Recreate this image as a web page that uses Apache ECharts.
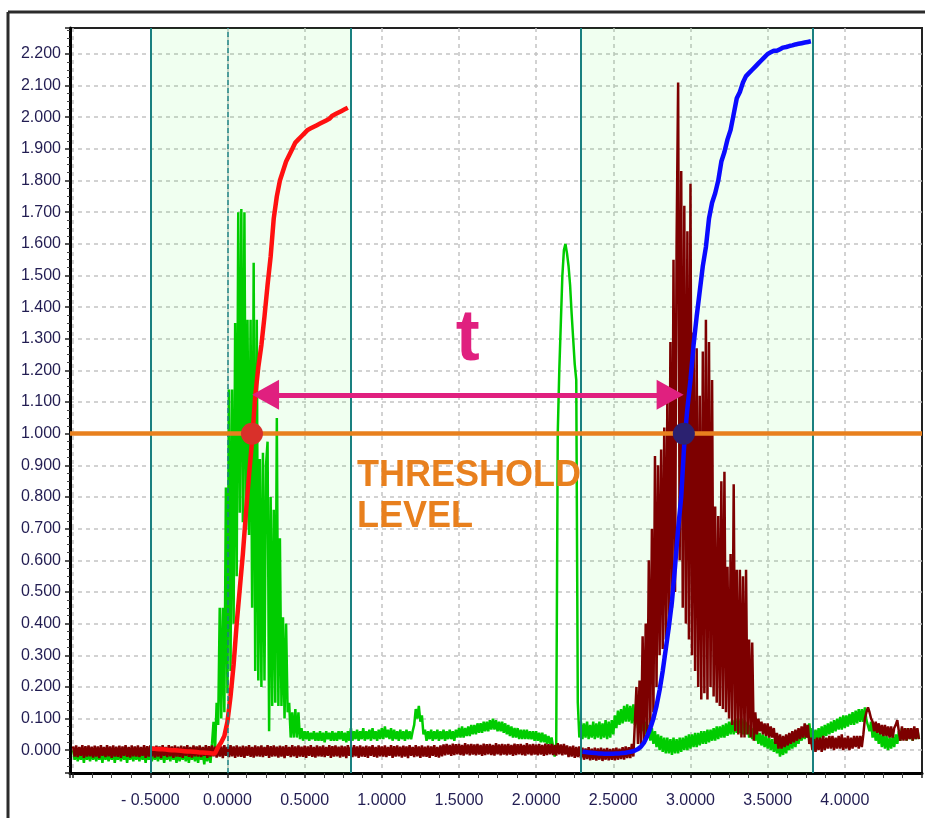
<!DOCTYPE html>
<html>
<head>
<meta charset="utf-8">
<title>Threshold timing</title>
<script src="https://cdn.jsdelivr.net/npm/echarts@6/dist/echarts.min.js"></script>
<style>
  html, body { margin: 0; padding: 0; background: #fff; }
  #chart { width: 925px; height: 818px; }
</style>
</head>
<body>
<div id="chart"></div>
<script>
// noisy traces are sampled every 0.01, the two integral curves every 0.02
// each segment: start x + values (rows of 10, row start in comment)

// green trace
var greenQuiet1 = [ // from -1.00
  /* -1.00 */ 0.0, -0.03, 0.005, -0.035, -0.005, -0.03, 0.0, -0.04, 0.005, -0.03,
  /* -0.90 */ -0.005, -0.035, 0.0, -0.03, 0.005, -0.035, -0.005, -0.03, 0.0, -0.04,
  /* -0.80 */ 0.005, -0.03, -0.005, -0.035, 0.0, -0.03, 0.005, -0.04, -0.005, -0.03,
  /* -0.70 */ 0.0, -0.035, 0.005, -0.03, -0.005, -0.04, 0.0, -0.03, 0.005, -0.035,
  /* -0.60 */ -0.005, -0.03, 0.0, -0.035, 0.005, -0.03, -0.005, -0.04, 0.0, -0.03,
  /* -0.50 */ 0.005, -0.035, 0.0, -0.03, -0.005, -0.035, 0.005, -0.03, 0.0, -0.04,
  /* -0.40 */ -0.005, -0.03, 0.005, -0.035, 0.0, -0.03, -0.005, -0.04, 0.005, -0.035,
  /* -0.30 */ 0.0, -0.03, -0.005, -0.035, 0.005, -0.04, 0.0, -0.03, -0.005, -0.035,
  /* -0.20 */ 0.005, -0.04, 0.0, -0.03, -0.005, -0.045, 0.0, -0.035, 0.005, -0.04
];
var greenBurst = [ // from -0.10
  /* -0.10 */ 0.02, 0.09, 0.0, 0.15, 0.08, 0.45, 0.10, 0.45, 0.12, 0.83,
  /*  0.00 */ 0.18, 1.14, 0.25, 1.14, 0.40, 1.35, 0.55, 1.70, 0.75, 1.71,
  /*  0.10 */ 0.72, 1.70, 0.70, 1.36, 0.68, 1.36, 0.45, 1.54, 0.25, 1.36,
  /*  0.20 */ 0.22, 0.92, 0.20, 0.94, 0.22, 0.90, 0.975, 0.06, 0.80, 0.14,
  /*  0.30 */ 0.76, 0.15, 1.05, 0.14, 0.67, 0.14, 0.42, 0.10, 0.40, 0.12,
  /*  0.40 */ 0.15, 0.04, 0.12, 0.04, 0.13, 0.04, 0.12, 0.035, 0.07, 0.03,
  /*  0.50 */ 0.06
];
var greenQuiet2 = [ // from 0.51
  /*  0.51 */ 0.035, 0.06, 0.03, 0.055, 0.035, 0.06, 0.03, 0.055, 0.03,
  /*  0.60 */ 0.06, 0.03, 0.055, 0.025, 0.06, 0.035, 0.055, 0.03, 0.06, 0.03,
  /*  0.70 */ 0.055, 0.03, 0.06, 0.035, 0.06, 0.03, 0.055, 0.025, 0.06, 0.03,
  /*  0.80 */ 0.07, 0.03, 0.06, 0.035, 0.065, 0.03, 0.06, 0.035, 0.07, 0.03,
  /*  0.90 */ 0.06, 0.035, 0.065, 0.03, 0.07, 0.035, 0.06, 0.03, 0.065, 0.035,
  /*  1.00 */ 0.07, 0.035, 0.075, 0.04, 0.065, 0.035, 0.07, 0.03, 0.065, 0.035,
  /*  1.10 */ 0.06, 0.03, 0.065, 0.035, 0.06, 0.03, 0.065, 0.035, 0.06, 0.035,
  /*  1.20 */ 0.06, 0.08, 0.13, 0.10, 0.14, 0.09, 0.11, 0.05, 0.065, 0.03,
  /*  1.30 */ 0.06, 0.035, 0.065, 0.03, 0.06, 0.035, 0.065, 0.03, 0.06, 0.035,
  /*  1.40 */ 0.065, 0.03, 0.06, 0.035, 0.065, 0.035, 0.06, 0.03, 0.065, 0.04,
  /*  1.50 */ 0.07, 0.04, 0.075, 0.04, 0.07, 0.045, 0.075, 0.045, 0.08, 0.05,
  /*  1.60 */ 0.08, 0.05, 0.085, 0.055, 0.085, 0.055, 0.09, 0.06, 0.09, 0.06,
  /*  1.70 */ 0.095, 0.065, 0.10, 0.065, 0.095, 0.06, 0.09, 0.06, 0.09, 0.055,
  /*  1.80 */ 0.085, 0.05, 0.08, 0.045, 0.075, 0.04, 0.07, 0.04, 0.07, 0.035,
  /*  1.90 */ 0.065, 0.035, 0.065, 0.035, 0.065, 0.035, 0.06, 0.035, 0.06, 0.03,
  /*  2.00 */ 0.06, 0.03, 0.055, 0.025, 0.055, 0.025, 0.05, 0.02, 0.045, 0.02,
  /*  2.10 */ 0.04, 0.01, -0.02, 0.0, 1.0, 1.20, 1.35, 1.50, 1.58, 1.60,
  /*  2.20 */ 1.57, 1.53, 1.47, 1.38, 1.30, 1.22, 1.17, 0.15, 0.04, 0.09,
  /*  2.30 */ 0.035, 0.085, 0.04, 0.09, 0.035, 0.08, 0.04, 0.09, 0.035, 0.085,
  /*  2.40 */ 0.04, 0.09, 0.035, 0.085, 0.04, 0.095, 0.035, 0.09, 0.04, 0.095,
  /*  2.50 */ 0.05, 0.11, 0.07, 0.125, 0.08, 0.13, 0.085, 0.14, 0.09, 0.145,
  /*  2.60 */ 0.09, 0.14, 0.085, 0.145, 0.08, 0.13, 0.07, 0.11, 0.06, 0.10,
  /*  2.70 */ 0.05, 0.09, 0.04, 0.08, 0.03, 0.07, 0.02, 0.06, 0.01, 0.05,
  /*  2.80 */ 0.0, 0.045, -0.005, 0.04, -0.01, 0.04, -0.01, 0.035, -0.015, 0.04,
  /*  2.90 */ -0.01, 0.035, -0.01, 0.04, -0.005, 0.04, 0.0, 0.045, 0.0, 0.05,
  /*  3.00 */ 0.005, 0.05, 0.01, 0.055, 0.01, 0.055, 0.015, 0.06, 0.02, 0.06,
  /*  3.10 */ 0.02, 0.065, 0.025, 0.065, 0.03, 0.07, 0.03, 0.075, 0.035, 0.075,
  /*  3.20 */ 0.04, 0.08, 0.04, 0.085, 0.045, 0.09, 0.05, 0.095, 0.05, 0.10,
  /*  3.30 */ 0.055, 0.10, 0.055, 0.10, 0.05, 0.095, 0.05, 0.09, 0.04, 0.08,
  /*  3.40 */ 0.035, 0.07, 0.03, 0.065, 0.02, 0.055, 0.015, 0.05, 0.01, 0.045,
  /*  3.50 */ 0.005, 0.04, 0.0, 0.035, -0.005, 0.03, -0.01, 0.025, -0.02, 0.02,
  /*  3.60 */ -0.015, 0.025, -0.01, 0.03, 0.0, 0.04, 0.005, 0.045, 0.01, 0.055,
  /*  3.70 */ 0.02, 0.06, 0.03, 0.07, 0.035, 0.08, 0.04, 0.085, 0.03, 0.07,
  /*  3.80 */ 0.025, 0.065, 0.03, 0.07, 0.035, 0.075, 0.04, 0.08, 0.045, 0.085,
  /*  3.90 */ 0.05, 0.09, 0.055, 0.095, 0.06, 0.10, 0.065, 0.105, 0.065, 0.11,
  /*  4.00 */ 0.07, 0.11, 0.075, 0.115, 0.08, 0.12, 0.08, 0.125, 0.085, 0.13,
  /*  4.10 */ 0.09, 0.13, 0.09, 0.135, 0.095, 0.09, 0.06, 0.09, 0.04, 0.075,
  /*  4.20 */ 0.03, 0.06, 0.02, 0.055, 0.01, 0.05, 0.005, 0.045, 0.0, 0.04,
  /*  4.30 */ 0.005, 0.045, 0.01, 0.05, 0.02, 0.06, 0.03, 0.07, 0.035, 0.07,
  /*  4.40 */ 0.03, 0.07, 0.035, 0.065, 0.03, 0.07, 0.035, 0.065, 0.035
];

// dark red trace
var darkQuiet1 = [ // from -1.00
  /* -1.00 */ 0.012, -0.02, 0.015, -0.022, 0.01, -0.018, 0.016, -0.024, 0.013, -0.02,
  /* -0.90 */ 0.015, -0.019, 0.011, -0.023, 0.014, -0.02, 0.012, -0.025, 0.016, -0.018,
  /* -0.80 */ 0.01, -0.022, 0.016, -0.019, 0.012, -0.024, 0.015, -0.02, 0.011, -0.021,
  /* -0.70 */ 0.014, -0.024, 0.012, -0.018, 0.016, -0.021, 0.01, -0.023, 0.015, -0.019,
  /* -0.60 */ 0.012, -0.02, 0.015, -0.022, 0.01, -0.018, 0.016, -0.024, 0.013, -0.02,
  /* -0.50 */ 0.015, -0.019, 0.011, -0.023, 0.014, -0.02, 0.012, -0.025, 0.016, -0.018,
  /* -0.40 */ 0.01, -0.022, 0.016, -0.019, 0.012, -0.024, 0.015, -0.02, 0.011, -0.021,
  /* -0.30 */ 0.014, -0.024, 0.012, -0.018, 0.016, -0.021, 0.01, -0.023, 0.015, -0.019,
  /* -0.20 */ 0.012, -0.02, 0.015, -0.022, 0.01, -0.018, 0.016, -0.024, 0.013, -0.02,
  /* -0.10 */ 0.015, -0.019, 0.011, -0.023, 0.014, -0.02, 0.012, -0.025, 0.016, -0.018,
  /*  0.00 */ 0.01, -0.022, 0.016, -0.019, 0.012, -0.024, 0.015, -0.02, 0.011, -0.021,
  /*  0.10 */ 0.014, -0.024, 0.012, -0.018, 0.016, -0.021, 0.01, -0.023, 0.015, -0.019,
  /*  0.20 */ 0.012, -0.02, 0.015, -0.022, 0.01, -0.018, 0.016, -0.024, 0.013, -0.02,
  /*  0.30 */ 0.015, -0.019, 0.011, -0.023, 0.014, -0.02, 0.012, -0.025, 0.016, -0.018,
  /*  0.40 */ 0.01, -0.022, 0.016, -0.019, 0.012, -0.024, 0.015, -0.02, 0.011, -0.021,
  /*  0.50 */ 0.014, -0.024, 0.012, -0.018, 0.016, -0.021, 0.01, -0.023, 0.015, -0.019,
  /*  0.60 */ 0.012, -0.02, 0.015, -0.022, 0.01, -0.018, 0.016, -0.024, 0.013, -0.02,
  /*  0.70 */ 0.015, -0.019, 0.011, -0.023, 0.014, -0.02, 0.012, -0.025, 0.016, -0.018,
  /*  0.80 */ 0.01, -0.022, 0.016, -0.019, 0.012, -0.024, 0.015, -0.02, 0.011, -0.021,
  /*  0.90 */ 0.014, -0.024, 0.012, -0.018, 0.016, -0.021, 0.01, -0.023, 0.015, -0.019,
  /*  1.00 */ 0.012, -0.02, 0.015, -0.022, 0.01, -0.018, 0.016, -0.024, 0.013, -0.02,
  /*  1.10 */ 0.015, -0.019, 0.011, -0.023, 0.014, -0.02, 0.012, -0.025, 0.016, -0.018,
  /*  1.20 */ 0.01, -0.022, 0.016, -0.019, 0.012, -0.024, 0.015, -0.02, 0.011, -0.021,
  /*  1.30 */ 0.014, -0.024, 0.012, -0.018, 0.016, -0.021, 0.01, -0.023, 0.015, -0.019,
  /*  1.40 */ 0.018, -0.016, 0.02, -0.014, 0.017, -0.018, 0.021, -0.015, 0.019, -0.013,
  /*  1.50 */ 0.02, -0.015, 0.017, -0.017, 0.022, -0.013, 0.018, -0.016, 0.02, -0.014,
  /*  1.60 */ 0.018, -0.016, 0.02, -0.014, 0.017, -0.018, 0.021, -0.015, 0.019, -0.013,
  /*  1.70 */ 0.02, -0.015, 0.017, -0.017, 0.022, -0.013, 0.018, -0.016, 0.02, -0.014,
  /*  1.80 */ 0.018, -0.016, 0.02, -0.014, 0.017, -0.018, 0.021, -0.015, 0.019, -0.013,
  /*  1.90 */ 0.02, -0.015, 0.017, -0.017, 0.022, -0.013, 0.018, -0.016, 0.02, -0.014,
  /*  2.00 */ 0.018, -0.016, 0.02, -0.014, 0.017, -0.018, 0.021, -0.015, 0.019, -0.013,
  /*  2.10 */ 0.02, -0.015, 0.017, -0.017, 0.022, -0.013, 0.018, -0.016, 0.02, -0.014,
  /*  2.20 */ 0.015, -0.022, 0.012, -0.02, 0.014, -0.024, 0.01, -0.022, 0.012, -0.025,
  /*  2.30 */ 0.008, -0.03, 0.006, -0.028, 0.01, -0.032, 0.005, -0.03, 0.008, -0.033,
  /*  2.40 */ 0.006, -0.03, 0.008, -0.034, 0.005, -0.03, 0.007, -0.032, 0.004, -0.03,
  /*  2.50 */ 0.006, -0.032, 0.008, -0.03, 0.005, -0.028, 0.01, -0.03, 0.012, -0.025,
  /*  2.60 */ 0.01, -0.025, 0.02, -0.02
];
var darkBurst = [ // from 2.64
  /* 2.64 */ -0.02, 0.20, 0.02, 0.22, 0.02, 0.36,
  /* 2.70 */ 0.03, 0.40, 0.05, 0.60, 0.08, 0.70, 0.12, 0.93, 0.20, 0.90,
  /* 2.80 */ 0.30, 0.95, 0.32, 1.02, 0.35, 1.10, 0.38, 1.29, 0.45, 1.55,
  /* 2.90 */ 0.50, 1.60, 2.11, 0.60, 1.83, 0.45, 1.72, 0.40, 1.64, 0.35,
  /* 3.00 */ 1.79, 0.30, 1.32, 0.25, 1.27, 0.20, 1.12, 0.16, 1.26, 0.18,
  /* 3.10 */ 1.36, 0.16, 1.29, 0.20, 1.17, 0.17, 0.77, 0.15, 0.74, 0.14,
  /* 3.20 */ 0.85, 0.13, 0.88, 0.12, 0.58, 0.10, 0.62, 0.08, 0.84, 0.06,
  /* 3.30 */ 0.57, 0.05, 0.57, 0.04, 0.55, 0.04, 0.57, 0.05, 0.35, 0.04,
  /* 3.40 */ 0.34, 0.03, 0.12, 0.05, 0.10
];
var darkQuiet2 = [ // from 3.45
  /* 3.45 */ 0.06, 0.09, 0.05, 0.085, 0.045,
  /* 3.50 */ 0.085, 0.04, 0.075, 0.04, 0.07, 0.02, 0.055, 0.005, 0.05, 0.005,
  /* 3.60 */ 0.045, 0.01, 0.05, 0.015, 0.055, 0.02, 0.06, 0.025, 0.065, 0.03,
  /* 3.70 */ 0.07, 0.035, 0.075, 0.04, 0.085, 0.04, 0.08, 0.02, 0.04, 0.0,
  /* 3.80 */ 0.035, -0.005, 0.04, 0.0, 0.04, -0.005, 0.045, 0.0, 0.04, 0.005,
  /* 3.90 */ 0.045, 0.005, 0.045, 0.0, 0.04, 0.005, 0.045, 0.005, 0.05, 0.0,
  /* 4.00 */ 0.04, 0.005, 0.045, 0.0, 0.04, 0.005, 0.045, 0.01, 0.045, 0.005,
  /* 4.10 */ 0.045, 0.01, 0.05, 0.10, 0.12, 0.135, 0.12, 0.10, 0.09, 0.06,
  /* 4.20 */ 0.09, 0.055, 0.085, 0.05, 0.08, 0.045, 0.08, 0.045, 0.075, 0.04,
  /* 4.30 */ 0.075, 0.04, 0.07, 0.08, 0.095, 0.06, 0.03, 0.075, 0.03, 0.07,
  /* 4.40 */ 0.03, 0.07, 0.035, 0.07, 0.03, 0.075, 0.035, 0.07, 0.035
];

// red integral curve, from -0.50 every 0.02
var redVals = [
  /* -0.50 */ 0.005, 0.005, 0.004, 0.003, 0.003, 0.002, 0.001, 0.0, 0.0, -0.001,
  /* -0.30 */ -0.002, -0.003, -0.004, -0.004, -0.005, -0.006, -0.007, -0.007, -0.008, -0.009,
  /* -0.10 */ -0.01, -0.01, 0.01, 0.025, 0.045, 0.09, 0.17, 0.27, 0.40, 0.51,
  /*  0.10 */ 0.62, 0.75, 0.87, 0.98, 1.12, 1.21, 1.28, 1.37, 1.47, 1.56,
  /*  0.30 */ 1.68, 1.75, 1.80, 1.83, 1.86, 1.88, 1.90, 1.92, 1.93, 1.94,
  /*  0.50 */ 1.95, 1.96, 1.965, 1.97, 1.975, 1.98, 1.985, 1.99, 1.995, 2.005,
  /*  0.70 */ 2.01, 2.015, 2.02, 2.025, 2.03
];

// blue integral curve, from 2.30 every 0.02
var blueVals = [
  /* 2.30 */ -0.005, -0.006, -0.007, -0.008, -0.009, -0.01, -0.01, -0.011, -0.011, -0.011,
  /* 2.50 */ -0.011, -0.01, -0.01, -0.009, -0.008, -0.006, -0.004, -0.001, 0.004, 0.012,
  /* 2.70 */ 0.025, 0.045, 0.07, 0.10, 0.14, 0.19, 0.25, 0.32, 0.39, 0.47,
  /* 2.90 */ 0.58, 0.70, 0.80, 0.97, 1.08, 1.17, 1.28, 1.37, 1.45, 1.53,
  /* 3.10 */ 1.59, 1.68, 1.73, 1.76, 1.80, 1.86, 1.89, 1.93, 1.96, 2.01,
  /* 3.30 */ 2.06, 2.08, 2.11, 2.13, 2.14, 2.15, 2.16, 2.17, 2.18, 2.19,
  /* 3.50 */ 2.20, 2.205, 2.21, 2.21, 2.215, 2.22, 2.222, 2.225, 2.227, 2.23,
  /* 3.70 */ 2.232, 2.234, 2.236, 2.238, 2.24
];

// annotations
var bands = [[-0.5, 0.795], [2.288, 3.79]];
var bandEdges = [-0.5, 0.795, 2.288, 3.79];
var zeroLine = 0;
var threshold = 1.0;
var crossings = [[0.159, 1.0], [2.957, 1.0]];
var arrowY = 1.123;
var arrowEnds = [0.247, 2.868];
var tLabelPos = [1.557, 1.297];
var thresholdTextPos = [0.839, 0.80];

function segment(start, dx, vals) {
  return vals.map(function (v, i) {
    return [Math.round((start + i * dx) * 100) / 100, v];
  });
}

var greenData = segment(-1.0, 0.01, greenQuiet1)
  .concat(segment(-0.10, 0.01, greenBurst))
  .concat(segment(0.51, 0.01, greenQuiet2));
var darkData = segment(-1.0, 0.01, darkQuiet1)
  .concat(segment(2.64, 0.01, darkBurst))
  .concat(segment(3.45, 0.01, darkQuiet2));
var redData = segment(-0.5, 0.02, redVals);
var blueData = segment(2.3, 0.02, blueVals);

var labelFont = "'Liberation Sans', Arial, sans-serif";
var labelColor = '#221d52';

var myChart = echarts.init(document.getElementById('chart'));

var option = {
  animation: false,
  backgroundColor: '#ffffff',
  graphic: [
    { type: 'line', shape: { x1: 8, y1: 12, x2: 925, y2: 12 }, style: { stroke: '#2b2b2b', lineWidth: 3 }, z: 100 },
    { type: 'line', shape: { x1: 8, y1: 12, x2: 8, y2: 818 }, style: { stroke: '#2b2b2b', lineWidth: 3 }, z: 100 }
  ],
  grid: {
    left: 70, top: 28, right: 3, bottom: 45,
    show: true,
    borderColor: '#222',
    borderWidth: 2,
    borderType: 'solid',
    backgroundColor: '#fff'
  },
  xAxis: {
    type: 'value',
    min: -1.02, max: 4.5,
    minInterval: 0.5, maxInterval: 0.5,
    splitNumber: 11,
    axisLine: { show: true, onZero: false, lineStyle: { color: '#000', width: 3 } },
    axisTick: { show: true, inside: false, length: 5, lineStyle: { color: '#222', width: 1.5 } },
    minorTick: { show: true, splitNumber: 4, length: 5, lineStyle: { color: '#444', width: 1 } },
    splitLine: {
      show: true, showMinLine: false, showMaxLine: false,
      lineStyle: { color: '#c4c4c4', width: 1.5, type: [4, 4] }
    },
    axisLabel: {
      margin: 20,
      showMinLabel: false,
      color: labelColor,
      fontFamily: labelFont,
      fontSize: 16,
      formatter: function (v) {
        if (v < -0.9 || v > 4.4) return '';
        if (v < 0) return '- ' + Math.abs(v).toFixed(4);
        return v.toFixed(4);
      }
    }
  },
  yAxis: {
    type: 'value',
    min: -0.072, max: 2.282,
    minInterval: 0.1, maxInterval: 0.1,
    splitNumber: 24,
    axisLine: { show: true, onZero: false, lineStyle: { color: '#000', width: 3 } },
    axisTick: { show: true, inside: false, length: 5, lineStyle: { color: '#222', width: 1.5 } },
    minorTick: { show: true, splitNumber: 4, length: 3, lineStyle: { color: '#444', width: 1 } },
    splitLine: {
      show: true, showMinLine: false, showMaxLine: false,
      lineStyle: { color: '#c4c4c4', width: 1.5, type: [4, 4] }
    },
    axisLabel: {
      margin: 9,
      showMinLabel: false,
      showMaxLabel: false,
      color: labelColor,
      fontFamily: labelFont,
      fontSize: 16,
      formatter: function (v) { return v.toFixed(3); }
    }
  },
  series: [
    {
      name: 'bands', type: 'line', data: [], silent: true, z: 1,
      markArea: {
        silent: true,
        itemStyle: { color: 'rgba(0,255,0,0.06)' },
        data: bands.map(function (b) { return [{ xAxis: b[0] }, { xAxis: b[1] }]; })
      }
    },
    {
      name: 'green', type: 'line', data: greenData,
      showSymbol: false, symbol: 'none', z: 2,
      lineStyle: { color: '#00cc00', width: 2.5 }
    },
    {
      name: 'darkred', type: 'line', data: darkData,
      showSymbol: false, symbol: 'none', z: 3,
      lineStyle: { color: '#7d0000', width: 2.5 }
    },
    {
      name: 'red', type: 'line', data: redData,
      showSymbol: false, symbol: 'none', z: 4,
      lineStyle: { color: '#ff1010', width: 4.5 }
    },
    {
      name: 'blue', type: 'line', data: blueData,
      showSymbol: false, symbol: 'none', z: 5,
      lineStyle: { color: '#0a0aff', width: 4.5 }
    },
    {
      name: 'edges', type: 'line', data: [], silent: true, z: 6,
      markLine: {
        silent: true, symbol: 'none', label: { show: false },
        data: bandEdges.map(function (x) {
          return { xAxis: x, lineStyle: { color: '#1a8080', width: 2, type: 'solid' } };
        }).concat([{ xAxis: zeroLine, lineStyle: { color: '#1a7f80', width: 1.5, type: [5, 3] } }])
      }
    },
    {
      name: 'threshold', type: 'line', data: [], silent: true, z: 7,
      markLine: {
        silent: true, symbol: 'none', label: { show: false },
        data: [{ yAxis: threshold, lineStyle: { color: '#e8801e', width: 4.5, type: 'solid' } }]
      }
    },
    {
      name: 'arrow', type: 'line', data: [], silent: true, z: 8,
      markLine: {
        silent: true,
        symbol: ['triangle', 'triangle'],
        symbolSize: [30, 27],
        label: { show: false },
        lineStyle: { color: '#e0207f', width: 5, type: 'solid', opacity: 1 },
        itemStyle: { color: '#e0207f', opacity: 1 },
        data: [[{ coord: [arrowEnds[0], arrowY] }, { coord: [arrowEnds[1], arrowY] }]]
      }
    },
    {
      name: 'crossings', type: 'scatter', z: 9, symbolSize: 22,
      itemStyle: { opacity: 1 },
      data: [
        { value: crossings[0], itemStyle: { color: '#d9302a', opacity: 1 } },
        { value: crossings[1], itemStyle: { color: '#2b2170', opacity: 1 } }
      ]
    },
    {
      name: 'labels', type: 'scatter', z: 10, symbolSize: 0, silent: true,
      itemStyle: { opacity: 1 },
      data: [
        {
          value: tLabelPos,
          label: {
            show: true, position: 'inside', formatter: 't',
            fontFamily: labelFont,
            fontWeight: 'bold', fontSize: 72, color: '#e0207f', opacity: 1
          }
        },
        {
          value: thresholdTextPos,
          label: {
            show: true, position: 'right', distance: 0, align: 'left',
            formatter: 'THRESHOLD\nLEVEL',
            fontFamily: labelFont,
            fontWeight: 'bold', fontSize: 36, lineHeight: 41, color: '#e8801e', opacity: 1
          }
        }
      ]
    }
  ]
};

myChart.setOption(option);
</script>
</body>
</html>
